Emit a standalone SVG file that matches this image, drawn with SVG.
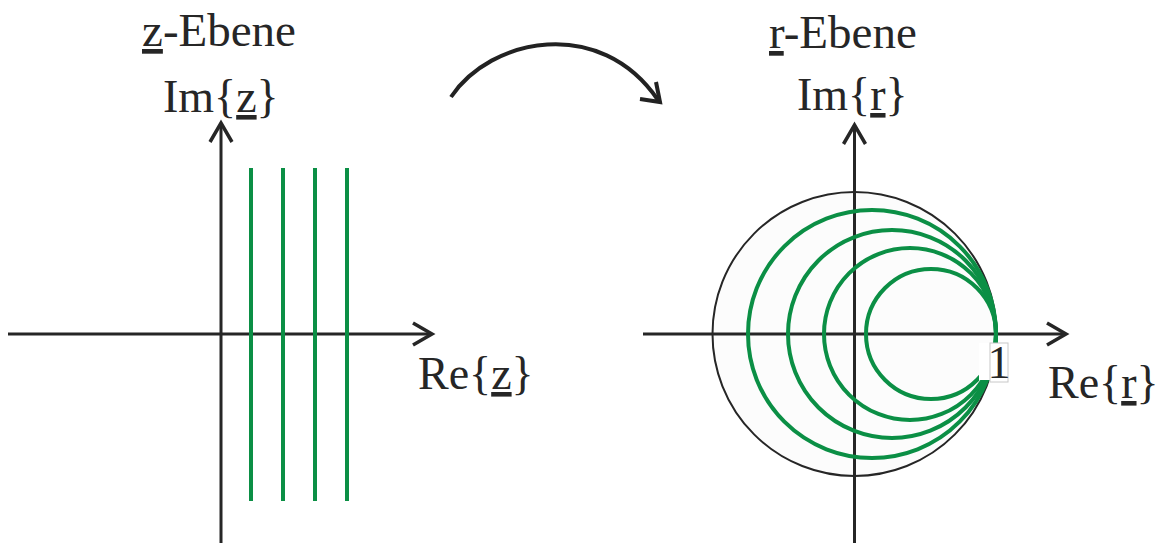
<svg xmlns="http://www.w3.org/2000/svg" width="1160" height="543" viewBox="0 0 1160 543">
  <style>
    .axis { stroke: #262626; stroke-width: 3; fill: none; }
    .head { stroke: #262626; stroke-width: 3.5; fill: none; stroke-linecap: butt; stroke-linejoin: miter; }
    .green { stroke: #0b8f45; stroke-width: 4; fill: none; }
    .lbl { font-family: "Liberation Serif", "Times New Roman", serif; font-size: 46px; fill: #262626; }
    .ul { text-decoration: underline; }
  </style>
  <rect width="1160" height="543" fill="#ffffff"/>

  <g id="z-plane">
    <line class="axis" x1="8" y1="334" x2="431" y2="334"/>
    <polyline class="head" points="413,323 432,334 413,345"/>
    <line class="axis" x1="221" y1="543" x2="221" y2="124"/>
    <polyline class="head" points="210,142 221,123 232,142"/>
    <g id="z-lines">
      <line class="green" x1="251" y1="168" x2="251" y2="501"/>
      <line class="green" x1="283" y1="168" x2="283" y2="501"/>
      <line class="green" x1="315" y1="168" x2="315" y2="501"/>
      <line class="green" x1="347" y1="168" x2="347" y2="501"/>
    </g>
    <text class="lbl" x="142" y="46" style="font-size:47px"><tspan class="ul">z</tspan>-Ebene</text>
    <text class="lbl" x="163" y="112">Im{<tspan class="ul">z</tspan>}</text>
    <text class="lbl" x="418" y="389">Re{<tspan class="ul">z</tspan>}</text>
  </g>

  <g id="r-plane">
    <circle cx="854.5" cy="334" r="142" fill="#fcfcfc" stroke="#262626" stroke-width="2"/>
    <line class="axis" x1="643" y1="334" x2="1065" y2="334"/>
    <polyline class="head" points="1047,323 1066,334 1047,345"/>
    <line class="axis" x1="854.5" y1="543" x2="854.5" y2="126"/>
    <polyline class="head" points="843.5,144 854.5,125 865.5,144"/>
    <g id="r-circles">
      <circle class="green" cx="872" cy="334" r="124"/>
      <circle class="green" cx="892" cy="334" r="104"/>
      <circle class="green" cx="910" cy="334" r="86"/>
      <circle class="green" cx="931" cy="334" r="65"/>
    </g>
    <rect x="979" y="343" width="29" height="37" fill="#ffffff"/>
    <rect x="990" y="343" width="18" height="39" fill="#ffffff" stroke="#c8c8c8" stroke-width="1"/>
    <text class="lbl" x="999" y="378" text-anchor="middle">1</text>
    <text class="lbl" x="769" y="48" style="font-size:47px"><tspan class="ul">r</tspan>-Ebene</text>
    <text class="lbl" x="797" y="110">Im{<tspan class="ul">r</tspan>}</text>
    <text class="lbl" x="1048" y="398">Re{<tspan class="ul">r</tspan>}</text>
  </g>

  <g id="connectors">
    <path d="M451,97 C490,38 600,15 658,100" stroke="#222" stroke-width="4" fill="none"/>
    <polyline points="640,99 660,102 656,82" stroke="#222" stroke-width="4" fill="none" stroke-linejoin="miter"/>
  </g>
</svg>
